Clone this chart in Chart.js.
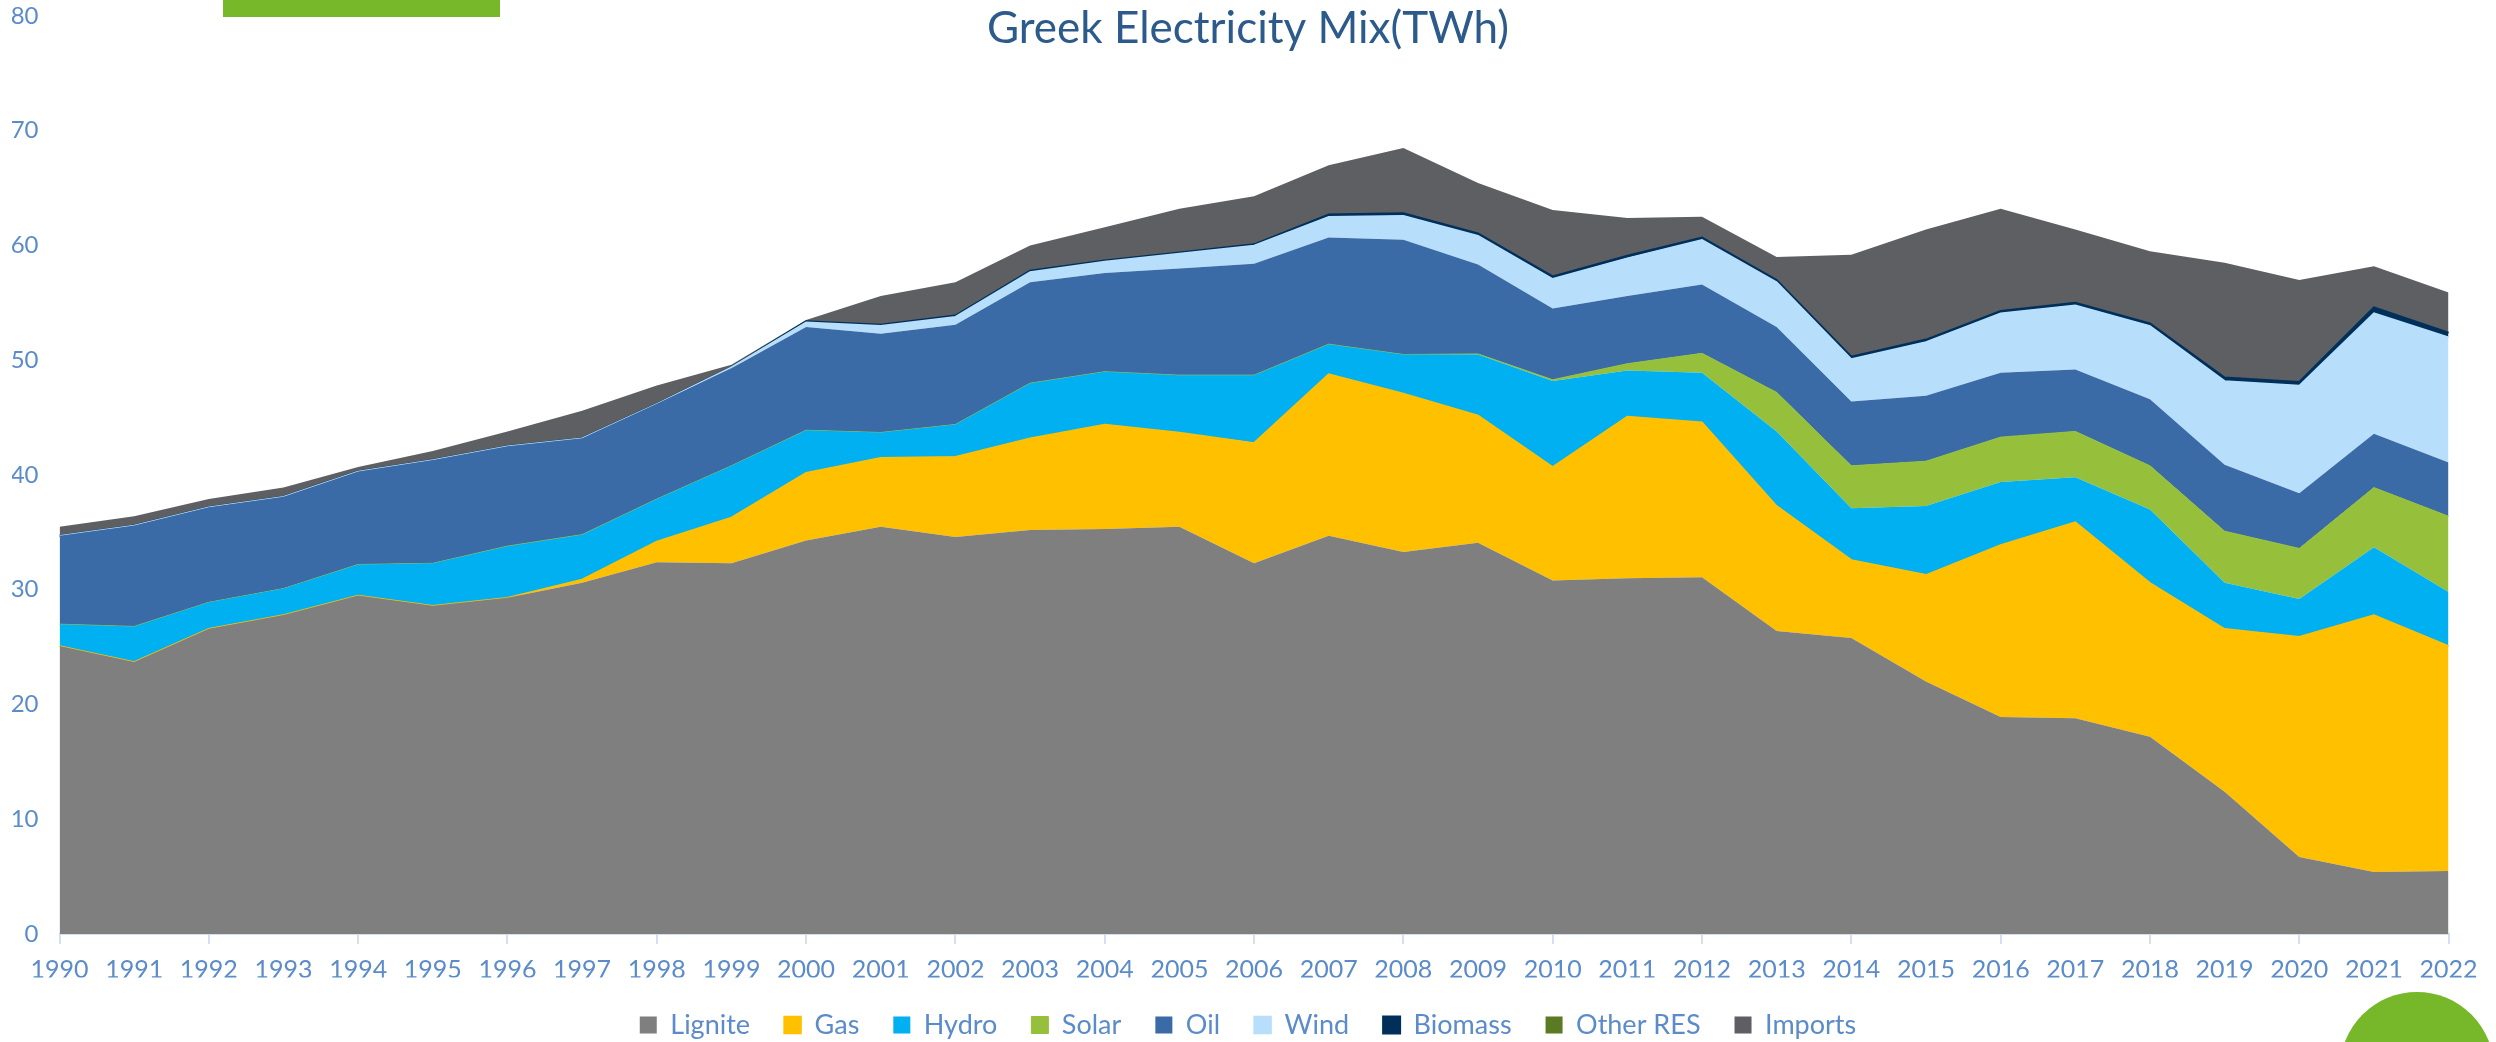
<!DOCTYPE html>
<html>
<head>
<meta charset="utf-8">
<title>Greek Electricity Mix</title>
<script src="https://cdn.jsdelivr.net/npm/chart.js@4.4.0/dist/chart.umd.min.js"></script>
<style>
  html, body { margin: 0; padding: 0; background: #fff; }
  #wrap { width: 2496px; height: 1042px; }
</style>
</head>
<body>
<div id="wrap"><canvas id="mix" width="2496" height="1042"></canvas></div>
<script>
// TWh per year
const years = ['1990','1991','1992','1993','1994','1995','1996','1997','1998','1999',
               '2000','2001','2002','2003','2004','2005','2006','2007','2008','2009',
               '2010','2011','2012','2013','2014','2015','2016','2017','2018','2019',
               '2020','2021','2022'];

const lignite = [25.1, 23.7, 26.6, 27.8, 29.5, 28.6, 29.3, 30.6, 32.4, 32.3,
                 34.3, 35.5, 34.6, 35.2, 35.3, 35.5, 32.3, 34.7, 33.3, 34.1,
                 30.8, 31.0, 31.1, 26.4, 25.8, 22.0, 18.9, 18.8, 17.2, 12.4,
                 6.7, 5.4, 5.5];
const gas = [0, 0, 0, 0, 0, 0, 0, 0.3, 1.8, 4.0,
             5.9, 6.0, 7.0, 8.0, 9.1, 8.2, 10.5, 14.1, 13.8, 11.1,
             9.9, 14.1, 13.5, 10.9, 6.8, 9.3, 15.0, 17.1, 13.4, 14.2,
             19.2, 22.4, 19.6];
const hydro = [1.9, 3.1, 2.3, 2.3, 2.7, 3.7, 4.5, 3.9, 3.7, 4.5,
               3.7, 2.2, 2.8, 4.8, 4.6, 5.0, 5.9, 2.6, 3.4, 5.3,
               7.5, 4.0, 4.3, 6.5, 4.5, 6.0, 5.5, 3.9, 6.4, 4.0,
               3.3, 5.9, 4.7];
const solar = [0, 0, 0, 0, 0, 0, 0, 0, 0, 0,
               0, 0, 0, 0, 0, 0, 0, 0, 0, 0.05,
               0.1, 0.6, 1.7, 3.4, 3.7, 3.9, 3.9, 4.0, 3.8, 4.5,
               4.4, 5.2, 6.6];
const oil = [7.7, 8.8, 8.3, 8.0, 8.1, 9.0, 8.7, 8.4, 8.3, 8.5,
             9.0, 8.6, 8.7, 8.8, 8.6, 9.3, 9.7, 9.3, 10.0, 7.8,
             6.2, 5.9, 6.0, 5.7, 5.6, 5.7, 5.6, 5.4, 5.8, 5.8,
             4.8, 4.7, 4.7];
const wind = [0, 0, 0, 0, 0, 0, 0, 0, 0, 0.1,
              0.4, 0.7, 0.7, 0.9, 1.0, 1.3, 1.6, 1.8, 2.1, 2.5,
              2.6, 3.3, 3.9, 3.9, 3.7, 4.7, 5.2, 5.6, 6.4, 7.3,
              9.4, 10.5, 10.9];
const biomass = [0, 0, 0, 0, 0, 0, 0, 0, 0, 0,
                 0.1, 0.1, 0.1, 0.1, 0.1, 0.1, 0.1, 0.2, 0.2, 0.2,
                 0.2, 0.2, 0.2, 0.2, 0.2, 0.2, 0.2, 0.2, 0.2, 0.3,
                 0.3, 0.5, 0.4];
const otherRes = [0, 0, 0, 0, 0, 0, 0, 0, 0, 0,
                  0, 0, 0, 0, 0, 0, 0, 0, 0, 0,
                  0, 0, 0, 0, 0, 0, 0, 0, 0, 0,
                  0, 0, 0];
const imports = [0.8, 0.8, 0.7, 0.8, 0.4, 0.8, 1.3, 2.4, 1.6, 0.2,
                 0.1, 2.5, 2.9, 2.2, 2.9, 3.8, 4.2, 4.3, 5.7, 4.4,
                 5.8, 3.3, 1.8, 2.0, 8.9, 9.6, 8.9, 6.4, 6.3, 10.0,
                 8.9, 3.6, 3.5];

const yTicks = [0, 10, 20, 30, 40, 50, 60, 70, 80];

const series = [
    ['Lignite',   lignite,  '#7F7F7F', 0],
    ['Gas',       gas,      '#FFC000', 1.5],
    ['Hydro',     hydro,    '#00B0F0', 0],
    ['Solar',     solar,    '#96BF3C', 1],
    ['Oil',       oil,      '#3A6BA6', 0],
    ['Wind',      wind,     '#B7DFFC', 1.5],
    ['Biomass',   biomass,  '#00305A', 2],
    ['Other RES', otherRes, '#5B7A24', 0],
    ['Imports',   imports,  '#5E5F62', 0]
];

const axisBlue = '#5B8BC8';
const axisLine = '#D6DFEE';

// green corner decorations of the original slide
const decor = {
    id: 'decor',
    afterDraw(chart) {
        const ctx = chart.ctx;
        ctx.save();
        ctx.fillStyle = '#76B82A';
        ctx.fillRect(223, 0, 277, 17);
        ctx.beginPath();
        ctx.arc(2417, 1069, 77, 0, Math.PI * 2);
        ctx.fill();
        ctx.restore();
    }
};

new Chart(document.getElementById('mix'), {
    type: 'line',
    data: {
        labels: years,
        datasets: series.map(function (s, i) {
            return {
                label: s[0],
                data: s[1],
                backgroundColor: s[2],
                borderColor: s[2],
                borderWidth: s[3],
                fill: i === 0 ? 'origin' : '-1',
                pointRadius: 0,
                tension: 0
            };
        })
    },
    options: {
        responsive: false,
        animation: false,
        events: [],
        layout: { padding: { top: 16, left: 12, right: 12, bottom: -6.5 } },
        plugins: {
            title: {
                display: true,
                text: 'Greek Electricity Mix(TWh)',
                color: '#2C5A8A',
                font: { family: 'Lato', size: 44, weight: 'normal' },
                padding: { top: -13.4, bottom: -39.4 }
            },
            legend: {
                position: 'bottom',
                labels: {
                    color: axisBlue,
                    font: { family: 'Lato', size: 27 },
                    boxWidth: 17,
                    boxHeight: 17,
                    padding: 34
                }
            },
            tooltip: { enabled: false }
        },
        scales: {
            x: {
                grid: {
                    drawOnChartArea: false,
                    drawTicks: true,
                    tickLength: 10,
                    lineWidth: 2,
                    color: function (c) { return c.index % 2 === 0 ? axisLine : 'rgba(0,0,0,0)'; }
                },
                border: { display: true, color: axisLine, width: 2 },
                ticks: {
                    color: axisBlue,
                    font: { family: 'Lato', size: 25 },
                    padding: 11,
                    autoSkip: false,
                    maxRotation: 0
                },
                afterFit: function (scale) {
                    scale.height = 43.5;
                    scale.paddingRight = 47.4;
                }
            },
            y: {
                stacked: true,
                min: 0,
                max: 80,
                grid: { display: false, drawTicks: false },
                border: { display: false },
                ticks: {
                    stepSize: 10,
                    color: axisBlue,
                    font: { family: 'Lato', size: 24 },
                    padding: 21,
                    callback: function (v) { return yTicks.includes(v) ? v : ''; }
                },
                afterFit: function (scale) {
                    scale.width = 47.5;
                    scale.paddingTop = 0;
                    scale.paddingBottom = 0;
                }
            }
        }
    },
    plugins: [decor]
});
</script>
</body>
</html>
